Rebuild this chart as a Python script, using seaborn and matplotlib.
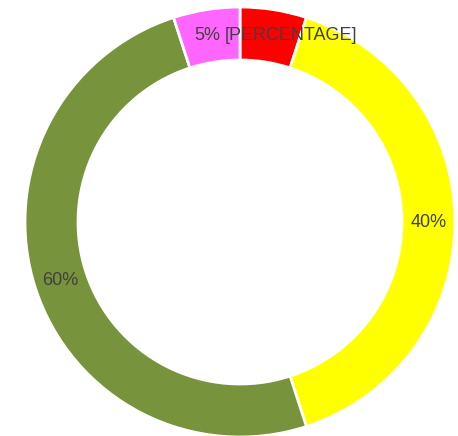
import matplotlib
matplotlib.use("Agg")
import matplotlib.pyplot as plt
import numpy as np
import seaborn as sns

# Ring segments, clockwise from 12 o'clock
segments = ["Red", "Yellow", "Green", "Pink"]
values = [5, 40, 50, 5]
label_texts = ["[PERCENTAGE]", "40%", "60%", "5%"]
colors = ["#FF0000", "#FFFF00", "#77933C", "#FF66FF"]

sns.set_theme(style="white")
plt.rcParams["font.family"] = ["Liberation Sans", "DejaVu Sans"]

fig = plt.figure(figsize=(4.58, 4.36), dpi=100)
fig.patch.set_facecolor("white")
ax = fig.add_axes([25 / 458, -1 / 436, 430 / 458, 430 / 436])

ring = 0.2465
wedges, _ = ax.pie(
    values,
    colors=colors,
    startangle=90,
    counterclock=False,
    radius=1.0,
    wedgeprops=dict(width=ring, edgecolor="white", linewidth=2),
)

# Labels sit in the middle of the ring at each segment's mid-angle;
# the two small top segments get a small horizontal nudge apart
nudge = {"[PERCENTAGE]": 0.10, "5%": -0.015}
total = sum(values)
r_lab = 1.0 - ring / 2
start = 0.0
for val, txt in zip(values, label_texts):
    mid = start + val / total * 360 / 2
    theta = np.deg2rad(90 - mid)
    x, y = r_lab * np.cos(theta), r_lab * np.sin(theta)
    x += nudge.get(txt, 0.0)
    ax.text(x, y, txt, ha="center", va="center", fontsize=13, color="#404040")
    start += val / total * 360

ax.set_xlim(-1, 1)
ax.set_ylim(-1, 1)
ax.axis("off")

fig.savefig("out.png", dpi=100, facecolor="white")
